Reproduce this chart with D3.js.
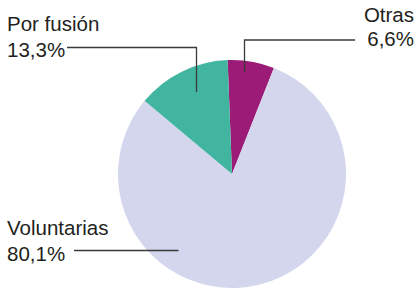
<!DOCTYPE html>
<html>
<head>
<meta charset="utf-8">
<script src="https://cdn.jsdelivr.net/npm/d3@7"></script>
<style>
    body { margin: 0; background: #fff; }
    svg { display: block; }
    .lbl { font-family: "Liberation Sans", Arial, sans-serif; font-size: 20.5px; fill: #231f20; }
</style>
</head>
<body>
<div id="chart"></div>
<script>
// Data
const categories = ['Otras', 'Voluntarias', 'Por fusión'];
const shares = [6.6, 80.1, 13.3];
const shareLabels = ['6,6%', '80,1%', '13,3%'];
const colors = ['#9b1b76', '#d3d6ed', '#41b5a0'];

const width = 416, height = 289;
const cx = 232, cy = 174, radius = 114;

const svg = d3.select('#chart')
    .append('svg')
    .attr('width', width)
    .attr('height', height);

const start = -2.2 * Math.PI / 180;

const pie = d3.pie()
    .sort(null)
    .value(d => d)
    .startAngle(start)
    .endAngle(start + 2 * Math.PI);

const arc = d3.arc()
    .innerRadius(0)
    .outerRadius(radius);

const arcs = pie(shares);

const g = svg.append('g')
    .attr('transform', `translate(${cx},${cy})`);

g.selectAll('path')
    .data(arcs)
    .enter().append('path')
    .attr('d', arc)
    .attr('fill', (d, i) => colors[i]);

// Leader lines (polyline points, relative to the page)
const leaders = [
    [[355, 40], [244.5, 40], [244.5, 72]],      // Otras
    [[74, 250.5], [178.5, 250.5]],              // Voluntarias
    [[67, 47.5], [196.5, 47.5], [196.5, 92]]    // Por fusión
];

svg.selectAll('.leader')
    .data(leaders)
    .enter().append('path')
    .attr('class', 'leader')
    .attr('d', d => d3.line()(d))
    .attr('fill', 'none')
    .attr('stroke', '#3a3a3a')
    .attr('stroke-width', 1.3);

// Labels: name + value, two lines
const labelPos = [
    { x: 414, y: 22, anchor: 'end', gap: 24 },
    { x: 7, y: 234.5, anchor: 'start', gap: 26 },
    { x: 7, y: 31, anchor: 'start', gap: 26 }
];

categories.forEach((name, i) => {
    const p = labelPos[i];
    const t = svg.append('text')
        .attr('class', 'lbl')
        .attr('text-anchor', p.anchor);
    t.append('tspan').attr('x', p.x).attr('y', p.y).text(name);
    t.append('tspan').attr('x', p.x).attr('y', p.y + p.gap).text(shareLabels[i]);
});
</script>
</body>
</html>
